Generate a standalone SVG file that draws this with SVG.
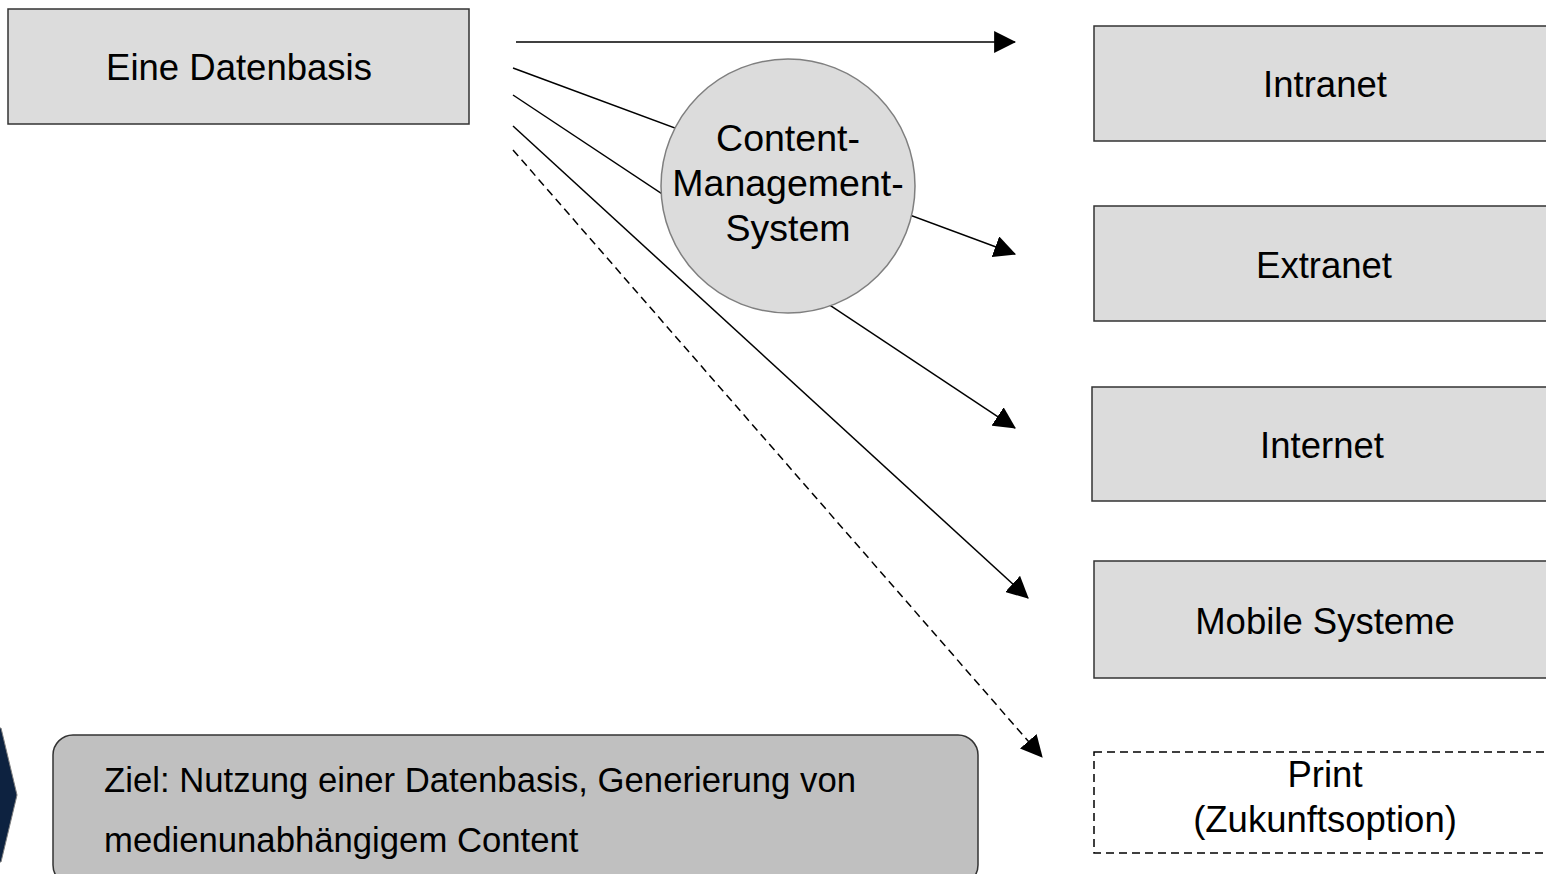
<svg xmlns="http://www.w3.org/2000/svg" width="1546" height="874" viewBox="0 0 1546 874">
<defs>
<style>
.box{fill:#dcdcdc;stroke:#333;stroke-width:1.5}
.t{font-family:"Liberation Sans",Arial,sans-serif;font-size:36.5px;fill:#000;text-anchor:middle}
.tc{font-size:37.5px}
.tl{font-family:"Liberation Sans",Arial,sans-serif;font-size:34.7px;fill:#000}
.c{stroke:#000;stroke-width:1.5;fill:none}
</style>
<marker id="ah" markerUnits="userSpaceOnUse" markerWidth="22" markerHeight="22" viewBox="0 0 20 20" refX="19" refY="10" orient="auto">
<path d="M0,0 L20,10 L0,20 z" fill="#000"/>
</marker>
</defs>
<rect width="1546" height="874" fill="#fff"/>
<g id="connectors">
<line class="c" x1="516" y1="42" x2="1015" y2="42" marker-end="url(#ah)"/>
<line class="c" x1="513" y1="68" x2="1015" y2="254" marker-end="url(#ah)"/>
<line class="c" x1="513" y1="95" x2="1015" y2="428" marker-end="url(#ah)"/>
<line class="c" x1="513" y1="126" x2="1028" y2="598" marker-end="url(#ah)"/>
<line class="c" x1="513" y1="150" x2="1042" y2="757" stroke-dasharray="8,5" marker-end="url(#ah)"/>
</g>
<g id="datenbasis">
<rect class="box" x="8" y="9" width="461" height="115"/>
<text class="t" x="239" y="80">Eine Datenbasis</text>
</g>
<g id="cms">
<circle cx="788" cy="186" r="127" fill="#dcdcdc" stroke="#7f7f7f" stroke-width="1.5"/>
<text class="t tc" x="788" y="151">Content-</text>
<text class="t tc" x="788" y="196">Management-</text>
<text class="t tc" x="788" y="241">System</text>
</g>
<g id="intranet">
<rect class="box" x="1094" y="26" width="460" height="115"/>
<text class="t" x="1325" y="97">Intranet</text>
</g>
<g id="extranet">
<rect class="box" x="1094" y="206" width="460" height="115"/>
<text class="t" x="1324" y="278">Extranet</text>
</g>
<g id="internet">
<rect class="box" x="1092" y="387" width="460" height="114"/>
<text class="t" x="1322" y="458">Internet</text>
</g>
<g id="mobile">
<rect class="box" x="1094" y="561" width="460" height="117"/>
<text class="t" x="1325" y="634">Mobile Systeme</text>
</g>
<g id="print">
<rect x="1094" y="752" width="460" height="101" fill="#fff" stroke="#000" stroke-width="1.5" stroke-dasharray="8,5"/>
<text class="t" x="1325" y="787">Print</text>
<text class="t" x="1325" y="832">(Zukunftsoption)</text>
</g>
<g id="chevron">
<polygon points="-2,728 1,728 17,795 1,862 -2,862" fill="#0d2240" stroke="#7f7f7f" stroke-width="1"/>
</g>
<g id="ziel">
<rect x="53" y="735" width="925" height="150" rx="20" ry="20" fill="#c0c0c0" stroke="#333" stroke-width="1.5"/>
<text class="tl" x="104" y="792">Ziel: Nutzung einer Datenbasis, Generierung von</text>
<text class="tl" x="104" y="852">medienunabhängigem Content</text>
</g>
</svg>
